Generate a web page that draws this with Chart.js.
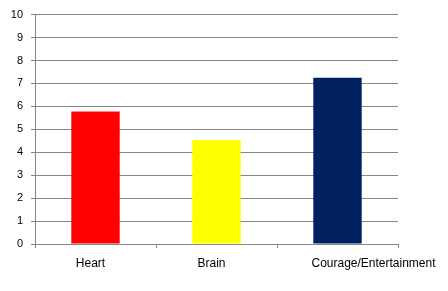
<!DOCTYPE html>
<html>
<head>
<meta charset="utf-8">
<script src="https://cdn.jsdelivr.net/npm/chart.js@4"></script>
<style>
  html, body { margin: 0; padding: 0; background: #fff; }
  #chart { display: block; }
</style>
</head>
<body>
<canvas id="chart" width="448" height="291"></canvas>
<script>
const categories = ['Heart', 'Brain', 'Courage/Entertainment'];
const values = [5.78, 4.53, 7.25];
const barColors = ['#FF0000', '#FFFF00', '#002060'];
const yTicks = [0, 1, 2, 3, 4, 5, 6, 7, 8, 9, 10];

const gridGray = '#868686';
const font = { family: 'Liberation Sans', size: 11 };

// Excel nudges the category labels a little; draw them ourselves
const labelOffsets = [-5, -5, 36];
const catLabels = {
  id: 'catLabels',
  afterDraw(chart) {
    const ctx = chart.ctx;
    const x = chart.scales.x;
    ctx.save();
    ctx.font = '12px "' + font.family + '"';
    ctx.fillStyle = '#000';
    ctx.textAlign = 'center';
    ctx.textBaseline = 'middle';
    categories.forEach((c, i) => {
      ctx.fillText(c, x.getPixelForValue(i) + labelOffsets[i], x.top + 20);
    });
    ctx.restore();
  }
};

new Chart('chart', {
  type: 'bar',
  data: {
    labels: categories,
    datasets: [{
      data: values,
      backgroundColor: barColors,
      borderWidth: 0,
      barPercentage: 0.4,
      categoryPercentage: 1
    }]
  },
  options: {
    responsive: false,
    animation: false,
    layout: { padding: { top: 12, right: 50, left: 0, bottom: 0 } },
    plugins: { legend: { display: false }, tooltip: { enabled: false } },
    scales: {
      x: {
        offset: true,
        grid: { offset: true, drawOnChartArea: false, color: gridGray, tickLength: 4 },
        border: { color: gridGray },
        ticks: { display: false },
        afterFit(s) { s.height = 47; }
      },
      y: {
        min: 0,
        max: 10,
        afterBuildTicks(s) { s.ticks = yTicks.map(v => ({ value: v })); },
        grid: { color: gridGray, tickLength: 4 },
        border: { color: gridGray },
        ticks: { color: '#000', font: font, padding: 8 },
        afterFit(s) { s.width = 35; }
      }
    }
  },
  plugins: [catLabels]
});
</script>
</body>
</html>
